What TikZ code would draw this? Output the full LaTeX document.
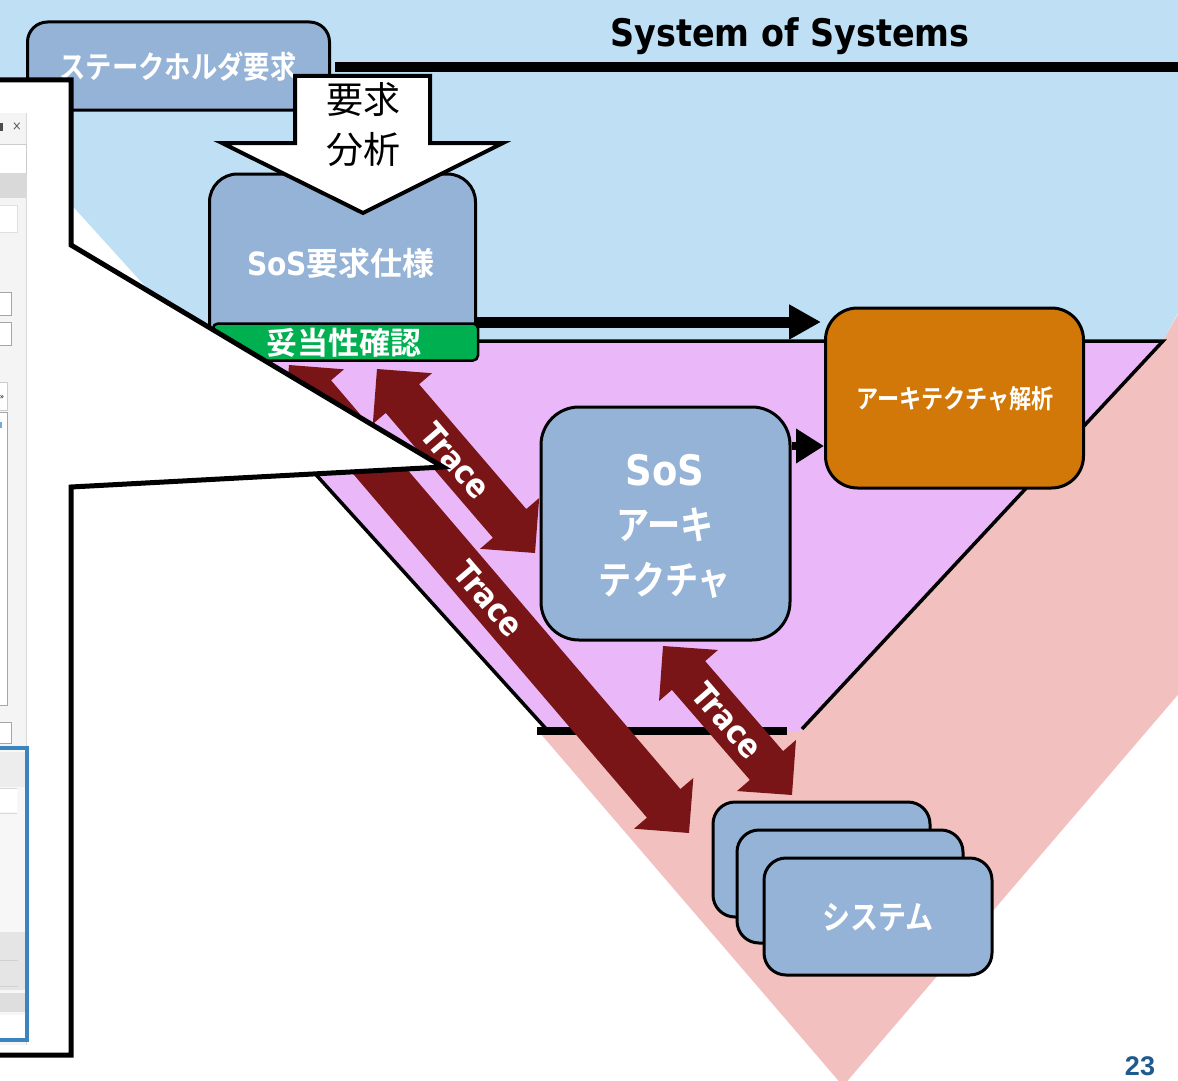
\documentclass[tikz,border=0pt]{standalone}
\usepackage{fontspec}
\usetikzlibrary{calc,arrows.meta}
\newfontfamily\latf[FakeStretch=0.88]{DejaVu Sans}
\newfontfamily\jpk[FakeStretch=0.85,BoldFont={Noto Sans CJK JP Bold}]{Noto Sans CJK JP}
\newfontfamily\jpn[BoldFont={Noto Sans CJK JP Bold}]{Noto Sans CJK JP}
\newfontfamily\numf{Liberation Sans}
\definecolor{bgblue}{HTML}{BFDFF5}
\definecolor{vpink}{HTML}{EAB8F9}
\definecolor{salmon}{HTML}{F3C0C0}
\definecolor{boxblue}{HTML}{95B3D7}
\definecolor{okgreen}{HTML}{00B050}
\definecolor{orng}{HTML}{D17808}
\definecolor{tracered}{HTML}{7A1517}
\definecolor{pgnum}{HTML}{1F5A8C}
\definecolor{uiblue}{HTML}{3A85BE}
\definecolor{uipanel}{HTML}{F4F4F4}
\definecolor{uiborder}{HTML}{A6A6A6}
\definecolor{uilight}{HTML}{D9D9D9}
\newcommand\tracearrow[3]{%
  \path ($(#1)!39pt!(#2)$) coordinate (ha) ($(#2)!39pt!(#1)$) coordinate (hb);
  \fill[tracered] (#1) -- ($(ha)!39pt!90:(#2)$) -- ($(ha)!22pt!90:(#2)$)
    -- ($(hb)!22pt!-90:(#1)$) -- ($(hb)!39pt!-90:(#1)$) -- (#2)
    -- ($(hb)!39pt!90:(#1)$) -- ($(hb)!22pt!90:(#1)$)
    -- ($(ha)!22pt!-90:(#2)$) -- ($(ha)!39pt!-90:(#2)$) -- cycle;
  \path (#1) -- (#2) node[midway, sloped, tracelabel] (#3) {Trace};
}
\begin{document}
\begin{tikzpicture}[x=1pt,y=-1pt,
  box/.style={draw=black,line width=3pt,fill=boxblue,inner sep=0pt},
  wtext/.style={text=white,inner sep=0pt},
  tracelabel/.style={text=white,inner sep=0pt,font=\latf\bfseries\fontsize{33}{33}\selectfont},
  uibox/.style={draw=uiborder,line width=1pt,fill=white}]
\useasboundingbox (0,0) rectangle (1178,1081);
\fill[white] (0,0) rectangle (1178,1081);
% background layers
\fill[bgblue] (0,0) -- (1178,0) -- (1178,313) -- (1163,341) -- (548,731) -- (0,126) -- cycle;
\fill[salmon] (540,733) -- (843,1086) -- (1182,690) -- (1182,307) -- (1163,341) -- (800,731) -- cycle;
\fill[vpink] (195,341) -- (1163,341) -- (800,731) -- (548,731) -- cycle;
\draw[line width=3.5pt,line join=miter] (548,731) -- (195,341) -- (1163,341) -- (802,729);
\draw[line width=8pt] (537,731) -- (787,731);
% title
\draw[line width=10pt] (335,67) -- (1182,67);
\node[inner sep=0pt,font=\latf\bfseries\fontsize{38}{38}\selectfont] (title) at (790,36) {System of Systems};
% stakeholder box
\node[box,rounded corners=20pt,minimum width=302pt,minimum height=88pt] (stake) at (178.5,66) {};
\node[wtext,font=\jpk\bfseries\fontsize{31}{31}\selectfont] (staket) at (178,67) {ステークホルダ要求};
% trace arrows
\coordinate (t1a) at (377,369); \coordinate (t1b) at (535,553);
\coordinate (t2a) at (289,365); \coordinate (t2b) at (689,833);
\coordinate (t3a) at (663,646); \coordinate (t3b) at (792,795);
\tracearrow{t1a}{t1b}{trone}
\tracearrow{t2a}{t2b}{trtwo}
\tracearrow{t3a}{t3b}{trthree}
% SoS requirement spec
\node[box,rounded corners=28pt,minimum width=266pt,minimum height=186pt] (sosreq) at (342.5,267) {};
\node[wtext,font=\fontsize{32}{32}\selectfont] (sosreqt) at (341,263) {{\latf\bfseries SoS}{\jpn\bfseries 要求仕様}};
\node[draw=black,line width=2.5pt,fill=okgreen,rounded corners=5pt,minimum width=265pt,minimum height=37pt,inner sep=0pt] (valid) at (345.5,342) {};
\node[wtext,font=\jpn\bfseries\fontsize{31}{31}\selectfont] (validt) at (344,343) {妥当性確認};
% white down arrow
\draw[fill=white,line width=4pt,line join=miter] (295,76) -- (430,76) -- (430,143) -- (503,143) -- (363,213) -- (222,143) -- (295,143) -- cycle;
\node[inner sep=0pt,align=center,font=\jpn\fontsize{37}{50}\selectfont] (analysis) at (363,125) {要求\\分析};
% orange and SoS architecture
\node[box,fill=orng,rounded corners=32pt,minimum width=258pt,minimum height=180pt] (orange) at (954.5,398) {};
\node[wtext,font=\jpk\bfseries\fontsize{26}{26}\selectfont] (oranget) at (955,399) {アーキテクチャ解析};
\node[box,rounded corners=38pt,minimum width=249pt,minimum height=233pt] (sosarch) at (665.5,523.5) {};
\node[wtext,font=\latf\bfseries\fontsize{42}{42}\selectfont] (sosarcha) at (665,470) {SoS};
\node[wtext,font=\jpk\bfseries\fontsize{39}{39}\selectfont] (sosarchb) at (665,525) {アーキ};
\node[wtext,font=\jpk\bfseries\fontsize{39}{39}\selectfont] (sosarchc) at (665,580) {テクチャ};
\coordinate (rowa) at (0,322);
\coordinate (rowb) at (0,446);
\draw[line width=11pt,-{Triangle[length=32pt,width=33pt]},shorten >=3pt] (sosreq.east |- rowa) -- (orange.west |- rowa);
\draw[line width=8pt,-{Triangle[length=28pt,width=33pt]}] (sosarch.east |- rowb) -- (orange.west |- rowb);
% systems
\node[box,rounded corners=22pt,minimum width=217pt,minimum height=115pt] (sysa) at (821.5,859.5) {};
\node[box,rounded corners=22pt,minimum width=226pt,minimum height=113pt] (sysb) at (850,886.5) {};
\node[box,rounded corners=22pt,minimum width=228pt,minimum height=117pt] (sysc) at (878,916.5) {};
\node[wtext,font=\jpk\bfseries\fontsize{33}{33}\selectfont] (syst) at (878,917) {システム};
% callout
\fill[white] (-5,80) -- (71,80) -- (71,245) -- (443,467) -- (71,487) -- (71,1055) -- (-5,1055) -- cycle;
% UI fragments
\fill[uipanel] (-2,113) rectangle (26,1045);
\draw[uilight,line width=1pt] (26,113) -- (26,1045);
\fill[black!70] (-1,123) rectangle (2.5,131);
\node[inner sep=0pt,text=black!65,font=\latf\fontsize{13}{13}\selectfont] (uiclose) at (17,127) {×};
\draw[uibox,draw=black!20] (-2,144) rectangle (26,173);
\fill[uilight] (-2,173) rectangle (26,198);
\draw[uibox,draw=black!12] (-2,205) rectangle (17,232);
\draw[uibox] (-2,292) rectangle (11,315);
\draw[uibox] (-2,322) rectangle (11,345);
\draw[uibox,draw=black!20] (-2,382) rectangle (7,410);
\node[inner sep=0pt,font=\latf\fontsize{8}{8}\selectfont] (uimore) at (2,397) {»};
\draw[uibox] (-2,412) rectangle (7.5,705);
\fill[uiblue!70] (-1,422) rectangle (1.5,428);
\draw[uibox] (-2,722) rectangle (11,743);
\draw[uiblue,line width=3.5pt,fill=black!3] (-3,748) rectangle (27,1040);
\fill[black!7] (-1,752) rectangle (25,787);
\draw[black!15,line width=1pt] (-1,788) -- (17,788);
\fill[white] (-1,789) rectangle (17,812);
\draw[black!15,line width=1pt] (-1,813) -- (17,813);
\fill[black!10] (-1,932) rectangle (25,990);
\draw[black!18,line width=1pt] (-1,960) -- (18,960);
\draw[black!18,line width=1pt] (-1,986) -- (18,986);
\fill[black!13] (-1,993) rectangle (25,1012);
\fill[white] (-1,1015) rectangle (25,1038);
\draw[uiblue,line width=3.5pt] (-3,748) rectangle (27,1040);
% callout border
\draw[line width=5pt,line join=miter] (-5,80) -- (71,80) -- (71,245) -- (443,467) -- (71,487) -- (71,1055) -- (-5,1055);
% page number
\node[inner sep=0pt,text=pgnum,font=\numf\bfseries\fontsize{27}{27}\selectfont] (pagenum) at (1140,1066) {23};
\end{tikzpicture}
\end{document}
